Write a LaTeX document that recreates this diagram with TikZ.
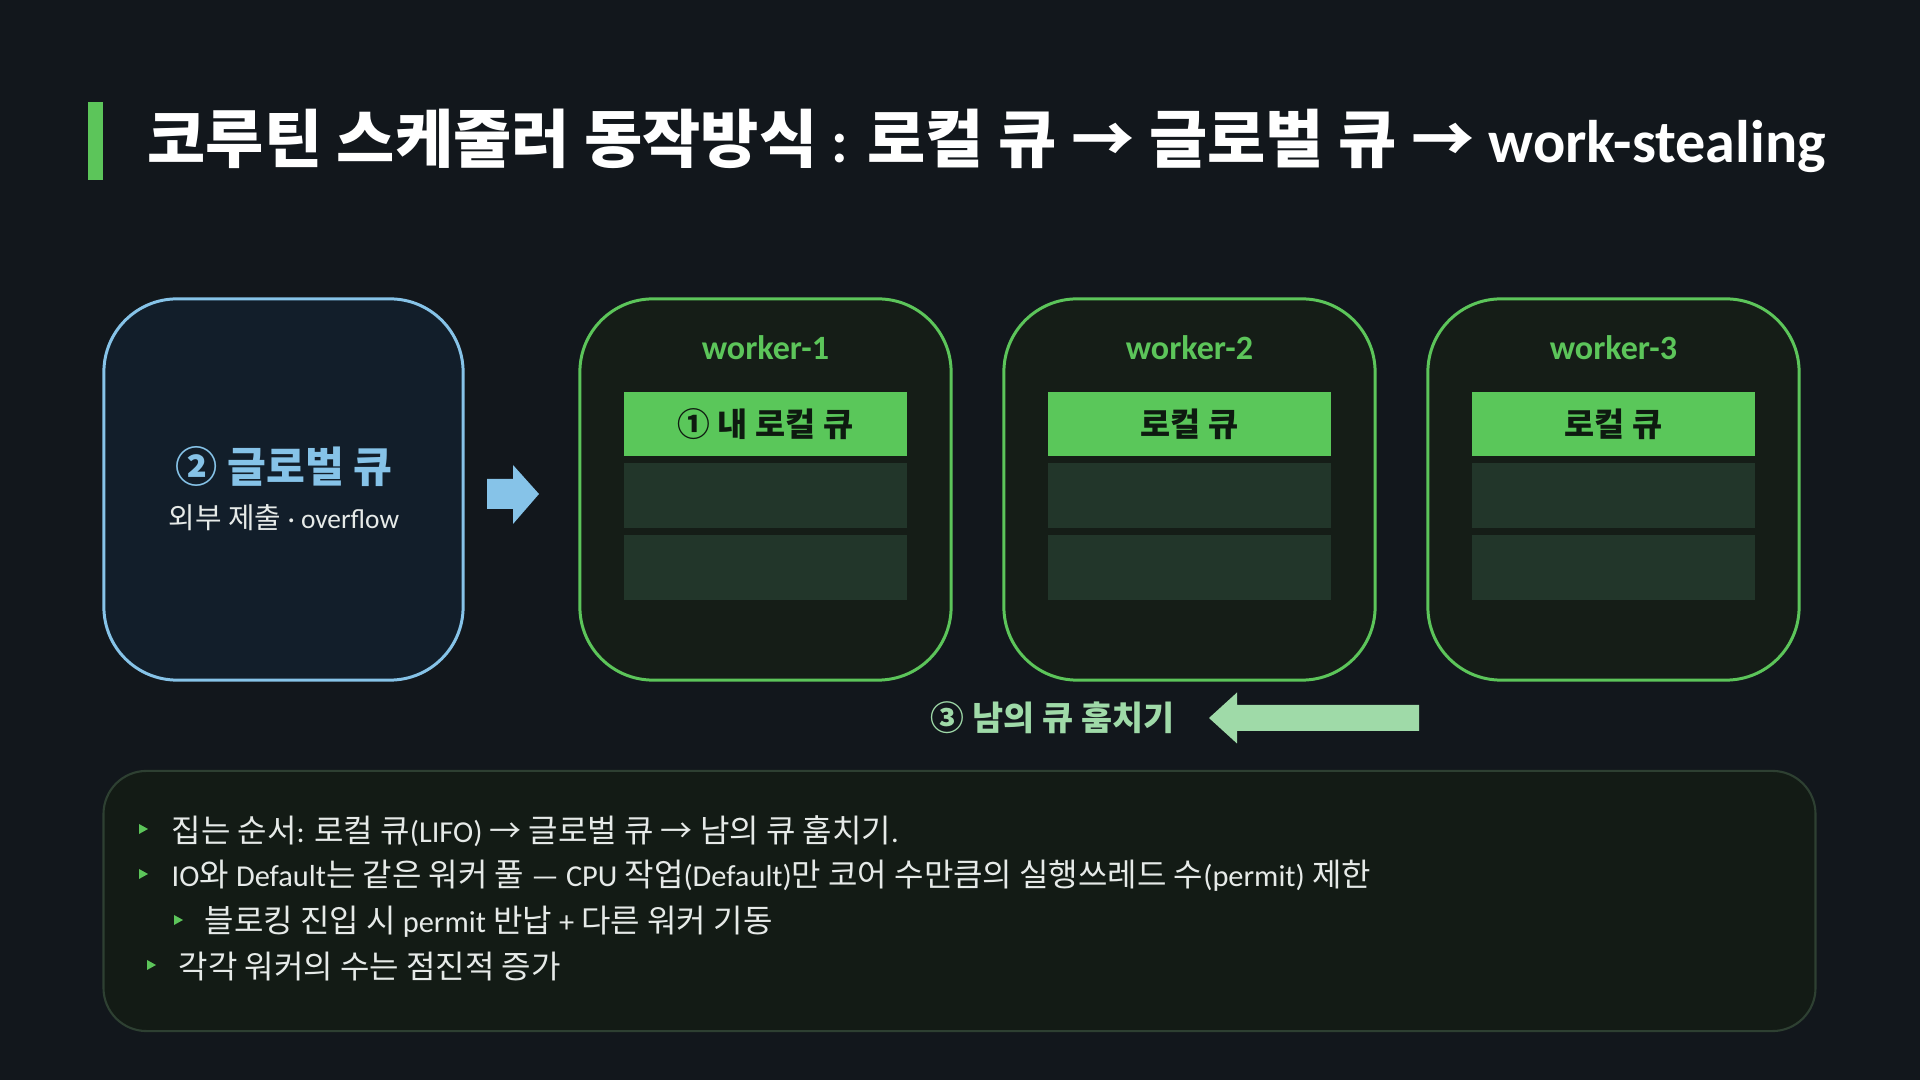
\documentclass[tikz,border=0pt]{standalone}
\usepackage{fontspec}
\setmainfont{Noto Sans CJK KR}
\newfontfamily\latinfont{Carlito}[Extension=.ttf, UprightFont=*-Regular,
    BoldFont=*-Bold, ItalicFont=*-Italic, BoldItalicFont=*-BoldItalic, Scale=0.95]
\newcommand{\lt}[1]{{\latinfont #1}}
\usetikzlibrary{positioning}

\definecolor{bgdark}{HTML}{12171C}
\definecolor{globfill}{HTML}{121E2A}
\definecolor{globline}{HTML}{86C3E8}
\definecolor{wfill}{HTML}{151D17}
\definecolor{wline}{HTML}{5CC55A}
\definecolor{qgreen}{HTML}{5AC75A}
\definecolor{qrow}{HTML}{22362A}
\definecolor{qtext}{HTML}{0E1A10}
\definecolor{stealgreen}{HTML}{9FDAA8}
\definecolor{notefill}{HTML}{131B15}
\definecolor{noteline}{HTML}{2E4032}
\definecolor{txtlight}{HTML}{E6EAE8}

\tikzset{
    bigbox/.style={draw, line width=0.85pt, rounded corners=0.73cm,
        minimum height=3.81cm, inner sep=0pt},
    workerbox/.style={bigbox, fill=wfill, draw=wline, minimum width=3.71cm},
    workertitle/.style={text=wline, font=\latinfont\bfseries\fontsize{10.2}{12}\selectfont},
    qhead/.style={fill=qgreen, text=qtext, minimum width=2.83cm, minimum height=0.64cm,
        inner sep=0pt, font=\bfseries\fontsize{9.3}{10}\selectfont},
    qslot/.style={fill=qrow, minimum width=2.83cm, minimum height=0.65cm, inner sep=0pt},
    bullet/.style={anchor=west, inner sep=0pt, text=txtlight,
        font=\fontsize{9.1}{10}\selectfont}
}

\begin{document}
\begin{tikzpicture}[x=0.01cm, y=-0.01cm]
    % background
    \fill[bgdark] (0,0) rectangle (1920,1080);
    \useasboundingbox (0,0) rectangle (1920,1080);

    % title
    \node[fill=wline, minimum width=0.15cm, minimum height=0.78cm, inner sep=0pt] (bar) at (95.5,141) {};
    \node[anchor=west, inner sep=0pt, text=white, font=\bfseries\fontsize{18}{22}\selectfont]
        (title) at (147,141) {코루틴 스케줄러 동작방식 \lt{\bfseries :} 로컬 큐 → 글로벌 큐 → \lt{\bfseries work-stealing}};

    % global queue
    \node[bigbox, fill=globfill, draw=globline, minimum width=3.59cm] (glob) at (283.5,489.5) {};
    \node[text=globline, font=\bfseries\fontsize{12}{13}\selectfont] (gq) at (284,467) {② 글로벌 큐};
    \node[text=txtlight, font=\fontsize{8.2}{9}\selectfont] (gs) at (284,518) {외부 제출 \lt{· overflow}};

    % workers
    \foreach \i/\cx/\lab in {1/765.5/{① 내 로컬 큐}, 2/1189.5/{로컬 큐}, 3/1613.5/{로컬 큐}} {
        \node[workerbox] (w\i) at (\cx,489.5) {};
        \node[workertitle] (wt\i) at (\cx,348) {worker-\i};
        \node[qhead] (qh\i) at (\cx,424) {\lab};
        \node[qslot] (qa\i) at (\cx,495.5) {};
        \node[qslot] (qb\i) at (\cx,567.5) {};
    }

    % global -> worker-1
    \coordinate (gtip) at (539,494);
    \fill[globline] (gtip) -- ++(-26,-29) -- ++(0,14) -- ++(-26,0) -- ++(0,30)
        -- ++(26,0) -- ++(0,15) -- cycle;

    % stealing
    \coordinate (stip) at (1209,718);
    \fill[stealgreen] (stip) -- ++(28,-25.5) -- ++(0,12.5) -- ++(182,0) -- ++(0,26)
        -- ++(-182,0) -- ++(0,12.5) -- cycle;
    \node[anchor=east, inner sep=0pt, text=stealgreen, font=\bfseries\fontsize{9.6}{11}\selectfont]
        (steal) at (1175,718) {③ 남의 큐 훔치기};

    % notes
    \node[draw=noteline, fill=notefill, line width=0.6pt, rounded corners=0.43cm,
        minimum width=17.11cm, minimum height=2.6cm] (note) at (959.5,901) {};
    \fill[wline] (139,824) -- ++(9,5) -- ++(-9,5) -- cycle;
    \fill[wline] (139,869) -- ++(9,5) -- ++(-9,5) -- cycle;
    \fill[wline] (174,915) -- ++(9,5) -- ++(-9,5) -- cycle;
    \fill[wline] (147,960) -- ++(9,5) -- ++(-9,5) -- cycle;
    \node[bullet] (n1) at (171,831) {집는 순서\lt{:} 로컬 큐\lt{(LIFO)} → 글로벌 큐 → 남의 큐 훔치기\lt{.}};
    \node[bullet] (n2) at (171,876) {\lt{IO}와 \lt{Default}는 같은 워커 풀 \lt{—} \lt{CPU} 작업\lt{(Default)}만 코어 수만큼의 실행쓰레드 수\lt{(permit)} 제한};
    \node[bullet] (n3) at (204,922) {블로킹 진입 시 \lt{permit} 반납 \lt{+} 다른 워커 기동};
    \node[bullet] (n4) at (178,967) {각각 워커의 수는 점진적 증가};
\end{tikzpicture}
\end{document}
